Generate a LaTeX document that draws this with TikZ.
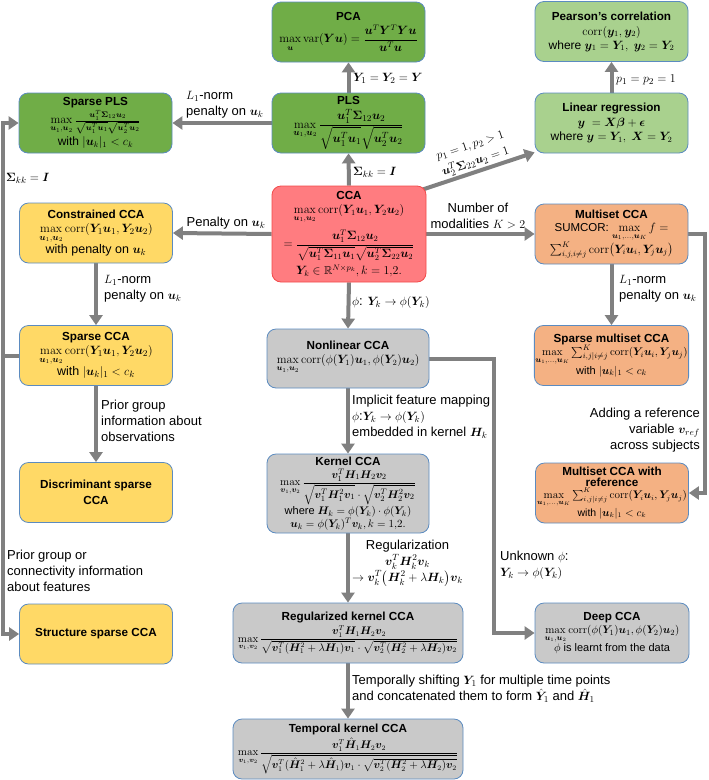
\documentclass[tikz,border=0pt]{standalone}
\usepackage{amsmath,amssymb,bm}
\usepackage[no-math]{fontspec}
\setmainfont{Liberation Sans}
\usetikzlibrary{arrows.meta,calc,backgrounds}
\definecolor{dg}{HTML}{70AD47}
\definecolor{lg}{HTML}{A9D18E}
\definecolor{rf}{HTML}{FF7C80}
\definecolor{rd}{HTML}{F24A4A}
\definecolor{yl}{HTML}{FFD966}
\definecolor{og}{HTML}{F4B183}
\definecolor{gy}{HTML}{C9C9C9}
\definecolor{bl}{HTML}{5B8BC0}
\definecolor{ar}{HTML}{808080}
\newcommand{\Bu}{\bm{u}}
\newcommand{\Bv}{\bm{v}}
\newcommand{\BY}{\bm{Y}}
\newcommand{\By}{\bm{y}}
\newcommand{\BX}{\bm{X}}
\newcommand{\BH}{\bm{H}}
\newcommand{\BS}{\bm{\Sigma}}
\newcommand{\BI}{\bm{I}}
\newcommand{\boxtitle}[1]{{\fontsize{11.7}{13}\selectfont\bfseries #1}}
\tikzset{
  box/.style={draw=bl, line width=0.8pt, rounded corners=9pt, align=center, inner sep=1pt,
    font=\fontsize{12}{14}\selectfont},
  bw/.style={minimum width=153, minimum height=60},
  arr/.style={draw=ar, line width=4pt, -{Triangle[width=13pt,length=10pt]}},
  lab/.style={font=\fontsize{13}{16}\selectfont, inner sep=1pt, text=black},
}
\begin{document}
\begin{tikzpicture}[x=1pt,y=-1pt]
\useasboundingbox (0,0) rectangle (709,780);
% ---------- boxes ----------
\node[box, bw, fill=dg] (PCA) at (348.5,32)
 {\boxtitle{PCA}\\[3pt] $\displaystyle\max_{\Bu}\mathrm{var}(\BY\Bu)=\frac{\Bu^T\BY^T\BY\Bu}{\Bu^T\Bu}$};
\node[box, bw, fill=dg, font=\fontsize{12.5}{14}\selectfont] (PLS) at (348.5,123)
 {\boxtitle{PLS}\\[4pt] $\displaystyle\max_{\Bu_1,\Bu_2}\frac{\Bu_1^T\BS_{12}\Bu_2}{\sqrt{\Bu_1^T\Bu_1}\sqrt{\Bu_2^T\Bu_2}}$};
\node[box, bw, fill=dg] (SPLS) at (95.5,123)
 {\boxtitle{Sparse PLS}\\[2pt] $\max\limits_{\Bu_1,\Bu_2}\frac{\Bu_1^T\BS_{12}\Bu_2}{\sqrt{\Bu_1^T\Bu_1}\sqrt{\Bu_2^T\Bu_2}}$\\[2pt] with $|\Bu_k|_1<c_k$};
\node[box, bw, fill=lg] (PC) at (611.5,31.5)
 {\boxtitle{Pearson's correlation}\\[1pt] $\mathrm{corr}(\By_1,\By_2)$\\ where $\By_1=\BY_1,\ \By_2=\BY_2$};
\node[box, bw, fill=lg] (LR) at (611.5,123)
 {\boxtitle{Linear regression}\\[1pt] $\By\ =\BX\bm{\beta}+\bm{\epsilon}$\\ where $\By=\BY_1,\ \BX=\BY_2$};
\node[box, draw=rd, fill=rf, minimum width=154, minimum height=96, font=\fontsize{11.5}{13}\selectfont] (CCA) at (349,234)
 {\boxtitle{CCA}\\[1pt] $\max\limits_{\Bu_1,\Bu_2}\mathrm{corr}(\BY_1\Bu_1,\BY_2\Bu_2)$\\[6pt]
  $\displaystyle=\frac{\Bu_1^T\BS_{12}\Bu_2}{\sqrt{\Bu_1^T\BS_{11}\Bu_1}\sqrt{\Bu_2^T\BS_{22}\Bu_2}}$\\[3pt]
  $\BY_k\in\mathbb{R}^{N\times p_k}, k=1{,}2.$};
\node[box, bw, fill=yl, font=\fontsize{12.5}{14}\selectfont] (CON) at (96,233)
 {\boxtitle{Constrained CCA}\\ $\max\limits_{\Bu_1,\Bu_2}\mathrm{corr}(\BY_1\Bu_1,\BY_2\Bu_2)$\\ with penalty on $\Bu_k$};
\node[box, bw, fill=yl, font=\fontsize{12.5}{14}\selectfont] (SCCA) at (96,355.5)
 {\boxtitle{Sparse CCA}\\ $\max\limits_{\Bu_1,\Bu_2}\mathrm{corr}(\BY_1\Bu_1,\BY_2\Bu_2)$\\ with $|\Bu_k|_1<c_k$};
\node[box, bw, fill=yl] (DIS) at (96,492.5)
 {\boxtitle{Discriminant sparse}\\[2pt] \boxtitle{CCA}};
\node[box, bw, fill=yl] (STR) at (96,634)
 {\boxtitle{Structure sparse CCA}};
\node[box, bw, fill=og, font=\fontsize{11.5}{13}\selectfont] (MUL) at (611.5,234)
 {\boxtitle{Multiset CCA}\\ SUMCOR: $\max\limits_{\Bu_1,\ldots,\Bu_K} f=$\\ $\sum_{i,j,i\neq j}^K\mathrm{corr}\bigl(\BY_i\Bu_i,\BY_j\Bu_j\bigr)$};
\node[box, bw, fill=og, font=\fontsize{11}{13}\selectfont] (SMUL) at (611.5,355.5)
 {\boxtitle{Sparse multiset CCA}\\ $\max\limits_{\Bu_1,\ldots,\Bu_K}\sum_{i,j|i\neq j}^K\mathrm{corr}(\BY_i\Bu_i,\BY_j\Bu_j)$\\ with $|\Bu_k|_1<c_k$};
\node[box, bw, fill=og, font=\fontsize{10.5}{11.5}\selectfont] (MREF) at (612,493)
 {\boxtitle{Multiset CCA with}\\ \boxtitle{reference}\\ $\max\limits_{\Bu_1,\ldots,\Bu_K}\sum_{i,j|i\neq j}^K\mathrm{corr}(\BY_i\Bu_i,\BY_j\Bu_j)$\\ with $|\Bu_k|_1<c_k$};
\node[box, fill=gy, minimum width=162, minimum height=59, font=\fontsize{12}{14}\selectfont] (NL) at (348,358.5)
 {\boxtitle{Nonlinear CCA}\\ \makebox[150pt]{$\max\limits_{\Bu_1,\Bu_2}\mathrm{corr}(\phi(\BY_1)\Bu_1,\phi(\BY_2)\Bu_2)$}\\[-2pt]\mbox{}};
\node[box, fill=gy, minimum width=162, minimum height=79, font=\fontsize{11}{12.5}\selectfont] (KER) at (348,493.5)
 {\boxtitle{Kernel CCA}\\[2pt] $\displaystyle\max_{\Bv_1,\Bv_2}\frac{\Bv_1^T\BH_1\BH_2\Bv_2}{\sqrt{\Bv_1^T\BH_1^2\Bv_1}\cdot\sqrt{\Bv_2^T\BH_2^2\Bv_2}}$\\[1pt] where $\BH_k=\phi(\BY_k)\cdot\phi(\BY_k)$\\ $\Bu_k=\phi(\BY_k)^T\Bv_k, k=1{,}2.$};
\node[box, fill=gy, minimum width=230, minimum height=60, font=\fontsize{10.5}{12}\selectfont] (REG) at (348,633)
 {\boxtitle{Regularized kernel CCA}\\[2pt] $\displaystyle\max_{\Bv_1,\Bv_2}\frac{\Bv_1^T\BH_1\BH_2\Bv_2}{\sqrt{\Bv_1^T(\BH_1^2+\lambda\BH_1)\Bv_1}\cdot\sqrt{\Bv_2^T(\BH_2^2+\lambda\BH_2)\Bv_2}}$};
\node[box, fill=gy, minimum width=230, minimum height=60, font=\fontsize{10.5}{12}\selectfont] (TMP) at (348,749)
 {\boxtitle{Temporal kernel CCA}\\[2pt] $\displaystyle\max_{\Bv_1,\Bv_2}\frac{\Bv_1^T\hat{\BH}_1\BH_2\Bv_2}{\sqrt{\Bv_1^T(\hat{\BH}_1^2+\lambda\hat{\BH}_1)\Bv_1\cdot\sqrt{\Bv_2^T(\BH_2^2+\lambda\BH_2)\Bv_2}}}$};
\node[box, fill=gy, minimum width=154, minimum height=60, font=\fontsize{11}{13}\selectfont] (DEEP) at (612,633)
 {\boxtitle{Deep CCA}\\ \makebox[148pt]{$\max\limits_{\Bu_1,\Bu_2}\mathrm{corr}(\phi(\BY_1)\Bu_1,\phi(\BY_2)\Bu_2)$}\\ $\phi$ is learnt from the data};
% ---------- connectors ----------
\begin{scope}[on background layer]
\draw[arr] (PLS.north) -- (PCA.south);
\draw[arr] (CCA.north) -- (PLS.south);
\draw[arr] (PLS.west) -- (SPLS.east);
\draw[arr] ($(CCA.north east)+(-4,4)$) -- node[lab, sloped, above, align=center, font=\fontsize{12.5}{15}\selectfont]
  {$p_1=1,p_2>1$\\[2pt] $\Bu_2^T\BS_{22}\Bu_2=1$} ($(LR.south west)+(0,-1)$);
\draw[arr] (LR.north) -- (PC.south);
\draw[arr] (CCA.west) -- (CON.east);
\draw[arr] (CON.south) -- (SCCA.north);
\draw[arr] (SCCA.south) -- (DIS.north);
\draw[arr] (SCCA.west) -- ++(-16,0) |- (SPLS.west);
\draw[arr] (SCCA.west) -- ++(-16,0) |- (STR.west);
\draw[arr] (CCA.east) -- (MUL.west);
\draw[arr] (MUL.south) -- (SMUL.north);
\draw[arr] (MUL.east) -- ++(17,0) |- (MREF.east);
\draw[arr] (CCA.south) -- (NL.north);
\draw[arr] (NL.south) -- (KER.north);
\draw[arr] (NL.east) -- ++(65,0) |- (DEEP.west);
\draw[arr] (KER.south) -- (REG.north);
\draw[arr] (REG.south) -- (TMP.north);
\end{scope}
% ---------- labels ----------
\node[lab, anchor=west] (l1) at (352,78) {$\BY_1=\BY_2=\BY$};
\node[lab, anchor=west] (l2) at (352,172) {$\BS_{kk}=\BI$};
\node[lab, anchor=west, align=left] (l3) at (185,105) {$L_1$-norm\\penalty on $\Bu_k$};
\node[lab, anchor=west] (l4) at (615,80) {$p_1=p_2=1$};
\node[lab, anchor=south] (l5) at (226,230) {Penalty on $\Bu_k$};
\node[lab, anchor=west, align=left] (l6) at (103,289) {$L_1$-norm\\penalty on $\Bu_k$};
\node[lab, anchor=west, align=left] (l7) at (100,421) {Prior group\\information about\\observations};
\node[lab, anchor=west] (l8) at (5,178) {$\BS_{kk}=\BI$};
\node[lab, anchor=west, align=left] (l9) at (6,571) {Prior group or\\connectivity information\\about features};
\node[lab, anchor=south, align=center] (l10) at (478,230) {Number of\\modalities $K>2$};
\node[lab, anchor=west, align=left] (l11) at (618,289) {$L_1$-norm\\penalty on $\Bu_k$};
\node[lab, anchor=east, align=right] (l12) at (701,430) {Adding a reference\\variable $\Bv_{ref}$\\across subjects};
\node[lab, anchor=west] (l13) at (351,302) {$\phi$: $\BY_k\to\phi(\BY_k)$};
\node[lab, anchor=west, align=left] (l14) at (351,417) {Implicit feature mapping\\$\phi$:$\BY_k\to\phi(\BY_k)$\\embedded in kernel $\BH_k$};
\node[lab, anchor=west, align=left] (l15) at (499,565) {Unknown $\phi$:\\$\BY_k\to\phi(\BY_k)$};
\node[lab, anchor=west, align=center] (l16) at (351,563) {Regularization\\$\Bv_k^T\BH_k^2\Bv_k$\\$\to\Bv_k^T\bigl(\BH_k^2+\lambda\BH_k\bigr)\Bv_k$};
\node[lab, anchor=west, align=left] (l17) at (351,689) {Temporally shifting $\BY_1$ for multiple time points\\and concatenated them to form $\hat{\BY}_1$ and $\hat{\BH}_1$};
\end{tikzpicture}
\end{document}
